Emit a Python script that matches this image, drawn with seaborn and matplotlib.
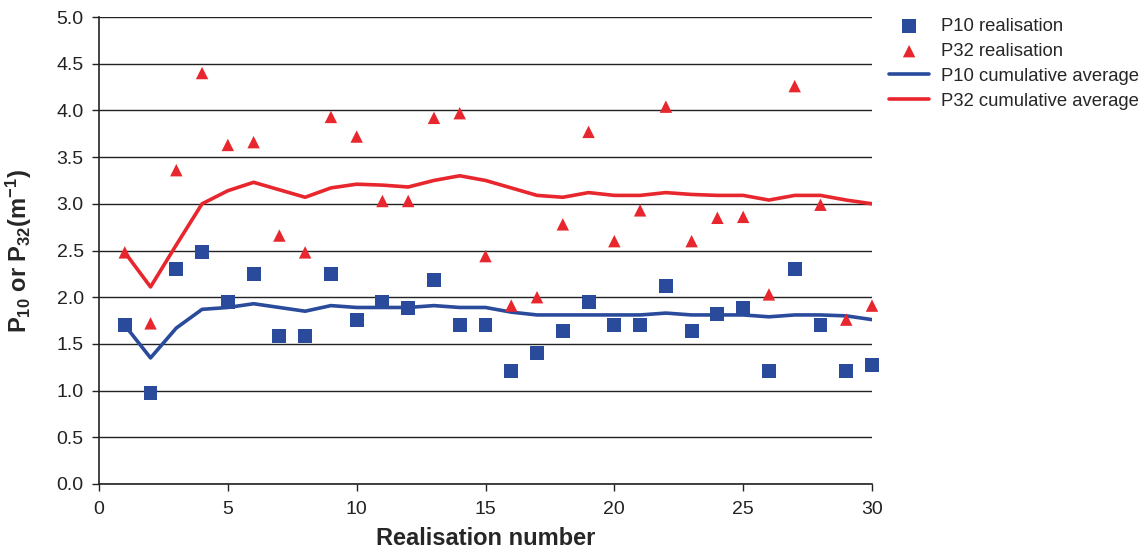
import numpy as np
import pandas as pd
import matplotlib
matplotlib.use("Agg")
import matplotlib.pyplot as plt
import seaborn as sns

realisation = list(range(1, 31))
p10_real = [1.70, 0.97, 2.30, 2.48, 1.95, 2.25, 1.58, 1.58, 2.25, 1.76,
            1.95, 1.88, 2.18, 1.70, 1.70, 1.21, 1.40, 1.64, 1.95, 1.70,
            1.70, 2.12, 1.64, 1.82, 1.88, 1.21, 2.30, 1.70, 1.21, 1.27]
p32_real = [2.48, 1.72, 3.36, 4.40, 3.63, 3.66, 2.66, 2.48, 3.93, 3.72,
            3.03, 3.03, 3.92, 3.97, 2.44, 1.91, 2.00, 2.78, 3.77, 2.60,
            2.93, 4.04, 2.60, 2.85, 2.86, 2.03, 4.26, 2.99, 1.76, 1.91]
p10_cum = [1.70, 1.35, 1.67, 1.87, 1.89, 1.93, 1.89, 1.85, 1.91, 1.89,
           1.89, 1.89, 1.91, 1.89, 1.89, 1.84, 1.81, 1.81, 1.81, 1.81,
           1.81, 1.83, 1.81, 1.81, 1.81, 1.79, 1.81, 1.81, 1.80, 1.76]
p32_cum = [2.48, 2.11, 2.56, 3.00, 3.14, 3.23, 3.15, 3.07, 3.17, 3.21,
           3.20, 3.18, 3.25, 3.30, 3.25, 3.17, 3.09, 3.07, 3.12, 3.09,
           3.09, 3.12, 3.10, 3.09, 3.09, 3.04, 3.09, 3.09, 3.04, 3.00]

blue = "#2A4B9B"
red = "#E8262D"

sns.set_theme(style="white")
plt.rcParams['font.family'] = ['Liberation Sans', 'DejaVu Sans']
plt.rcParams['mathtext.fontset'] = 'custom'
plt.rcParams['mathtext.rm'] = 'Liberation Sans'
plt.rcParams['mathtext.bf'] = 'Liberation Sans:bold'

df = pd.DataFrame({"x": realisation, "p10": p10_real, "p32": p32_real,
                   "p10c": p10_cum, "p32c": p32_cum})

fig = plt.figure(figsize=(11.43, 5.51), dpi=100)
ax = fig.add_axes([99/1143, 1-484/551, (872-99)/1143, (484-17)/551])

ax.set_axisbelow(True)
ax.yaxis.grid(True, color="#222222", linewidth=1.0)
ax.xaxis.grid(False)

sns.lineplot(data=df, x="x", y="p10c", ax=ax, color=blue, linewidth=2.6,
             label="P10 cumulative average", zorder=3)
sns.lineplot(data=df, x="x", y="p32c", ax=ax, color=red, linewidth=2.6,
             label="P32 cumulative average", zorder=3)
sns.scatterplot(data=df, x="x", y="p10", ax=ax, color=blue, marker="s", s=100,
                edgecolor="none", label="P10 realisation", zorder=4,
                clip_on=False)
sns.scatterplot(data=df, x="x", y="p32", ax=ax, color=red, marker="^", s=80,
                edgecolor="none", label="P32 realisation", zorder=4,
                clip_on=False)

ax.set_xlim(0, 30)
ax.set_ylim(0, 5)
ax.set_xticks(range(0, 31, 5))
ax.set_yticks(np.arange(0, 5.01, 0.5))
ax.set_yticklabels([f"{v:.1f}" for v in np.arange(0, 5.01, 0.5)])
ax.tick_params(axis="both", labelsize=14, colors="#222222", length=5,
               width=1, direction="out", left=True, bottom=True)
ax.tick_params(axis="y", pad=6)
ax.tick_params(axis="x", pad=7)
for s in ["top", "right"]:
    ax.spines[s].set_visible(False)
for s in ["left", "bottom"]:
    ax.spines[s].set_color("#222222")
    ax.spines[s].set_linewidth(1.2)

ax.set_xlabel("Realisation number", fontsize=17, fontweight="bold", labelpad=7)
ax.set_ylabel(r"$\mathbf{P_{10}}$ or $\mathbf{P_{32}(m^{-1})}$", fontsize=17,
              fontweight="bold", labelpad=16)

handles, labels = ax.get_legend_handles_labels()
order = ["P10 realisation", "P32 realisation", "P10 cumulative average",
         "P32 cumulative average"]
hmap = dict(zip(labels, handles))
ax.legend([hmap[k] for k in order], order, loc="upper left",
          bbox_to_anchor=(1.005, 1.025), frameon=False, fontsize=13.3,
          handlelength=2.2, labelspacing=0.42, borderaxespad=0.3,
          handletextpad=0.6)

fig.savefig("out.png", dpi=100)
